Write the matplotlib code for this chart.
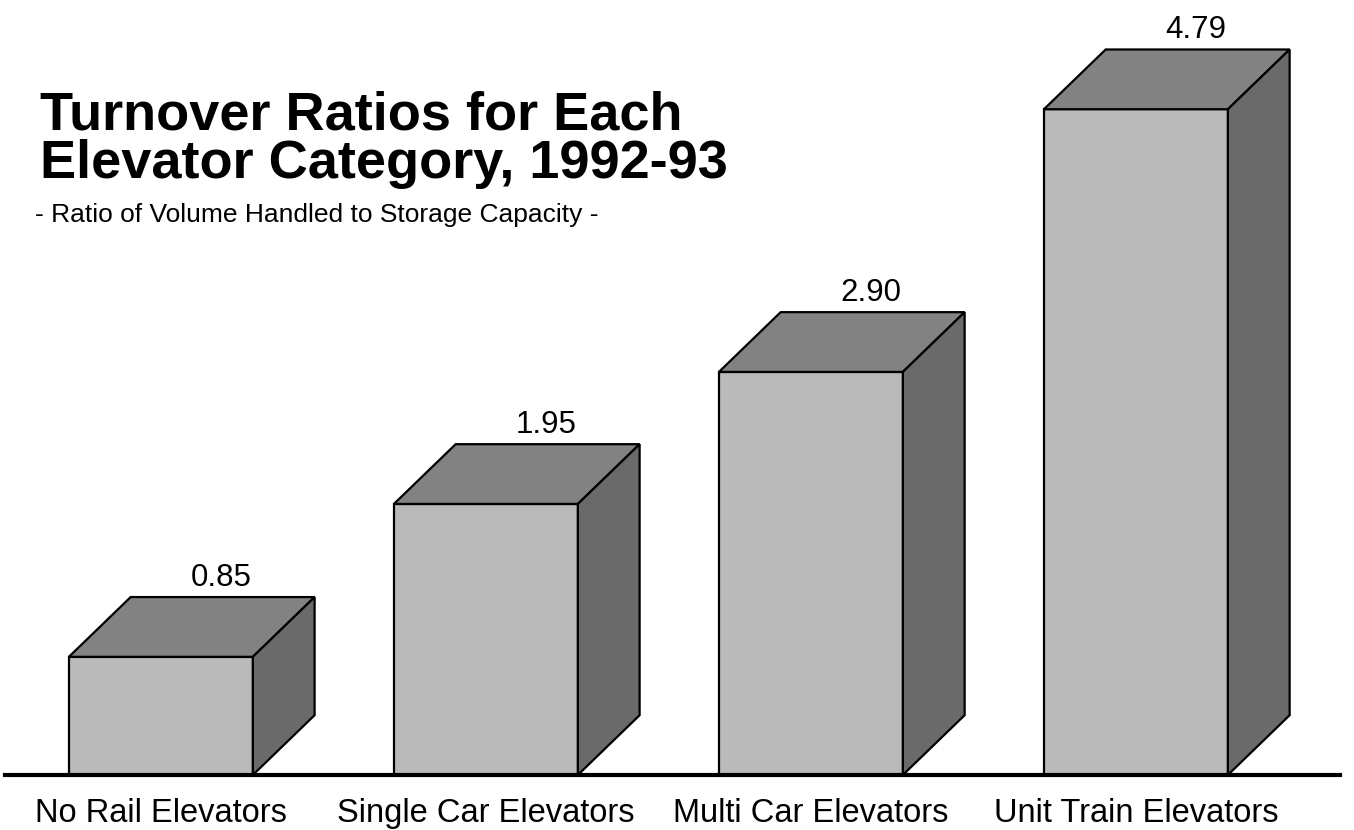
import numpy as np
from matplotlib import pyplot as plt
from matplotlib.patches import Polygon

categories = ["No Rail Elevators", "Single Car Elevators",
              "Multi Car Elevators", "Unit Train Elevators"]
ratios = [0.85, 1.95, 2.90, 4.79]
value_labels = ["0.85", "1.95", "2.90", "4.79"]

plt.rcParams['font.family'] = ['Liberation Sans', 'DejaVu Sans']

fig = plt.figure(figsize=(13.54, 8.30), dpi=100)
ax = fig.add_axes([0, 0, 1, 1])
ax.set_xlim(-0.495, 3.671)
ax.set_ylim(-0.396, 5.576)
ax.axis('off')

w = 0.566   # front face width
dx = 0.19   # depth offset in x
dy = 0.43   # depth offset in y

front_c = '#bababa'
top_c = '#828282'
side_c = '#6a6a6a'

for i, v in enumerate(ratios):
    x0 = i - w / 2
    x1 = i + w / 2
    front = Polygon([[x0, 0], [x1, 0], [x1, v], [x0, v]], closed=True,
                    facecolor=front_c, edgecolor='black', lw=1.6)
    top = Polygon([[x0, v], [x1, v], [x1 + dx, v + dy], [x0 + dx, v + dy]],
                  closed=True, facecolor=top_c, edgecolor='black', lw=1.6)
    side = Polygon([[x1, 0], [x1 + dx, dy], [x1 + dx, v + dy], [x1, v]],
                   closed=True, facecolor=side_c, edgecolor='black', lw=1.6)
    for p in (front, top, side):
        ax.add_patch(p)
    ax.text(i + 0.185, v + dy + 0.08, value_labels[i], ha='center', va='baseline',
            fontsize=22.5)

# base line
ax.axhline(0, xmin=5 / 1354, xmax=1340 / 1354, color='black', lw=3)

for i, c in enumerate(categories):
    ax.text(i, -0.338, c, ha='center', va='baseline', fontsize=23.5)

fig.text(40 / 1354, 1 - 178 / 830, "Turnover Ratios for Each\nElevator Category, 1992-93",
         fontsize=39, fontweight='bold', ha='left', va='baseline', linespacing=0.95)
fig.text(35 / 1354, 1 - 215 / 830, "- Ratio of Volume Handled to Storage Capacity -",
         fontsize=19, ha='left', va='center')

plt.savefig('out.png', dpi=100)
